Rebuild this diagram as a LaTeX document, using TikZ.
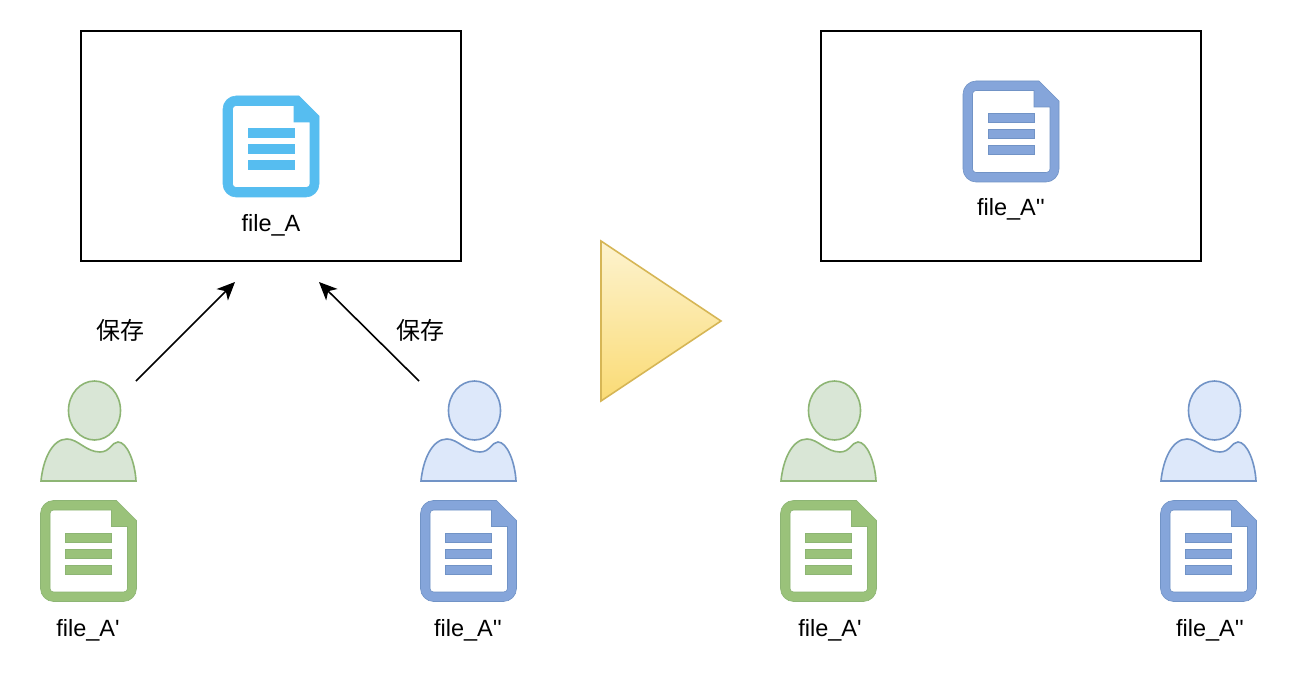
\documentclass[tikz,border=0pt]{standalone}
\usepackage{fontspec}
\newfontfamily\lblfont{Liberation Sans}
\newfontfamily\cjkfont{Noto Sans CJK SC}
\usetikzlibrary{arrows.meta}
\definecolor{cyanfill}{HTML}{56BDF0}
\definecolor{greenfill}{HTML}{9AC27A}
\definecolor{greenline}{HTML}{8DB574}
\definecolor{bluefill}{HTML}{85A5DA}
\definecolor{blueline}{HTML}{7193C6}
\definecolor{greenlight}{HTML}{D9E6D6}
\definecolor{bluelight}{HTML}{DDE8FA}
\definecolor{goldtop}{HTML}{FDF3CF}
\definecolor{goldbot}{HTML}{FADB75}
\definecolor{goldline}{HTML}{D6B656}
\tikzset{
  frame/.style={draw=black,line width=1.5pt,fill=white},
  lbl/.style={font=\lblfont\fontsize{23.5}{26}\selectfont,text=black,inner sep=0pt,anchor=center},
  cjklbl/.style={font=\cjkfont\fontsize{24}{26}\selectfont,text=black,inner sep=0pt,anchor=center},
  savearrow/.style={draw=black,line width=1.6pt,-{Stealth[length=18pt,width=16pt,inset=5pt]}}
}
\newcommand{\docicon}[4]{%
 \begin{scope}[shift={(#1,#2)}]
  \path[fill=#3,draw=#4,line width=0.6pt,even odd rule]
   (13,0) .. controls (6,0) and (0,6) .. (0,13) -- (0,88)
   .. controls (0,95) and (6,101) .. (13,101) -- (83,101)
   .. controls (90,101) and (96,95) .. (96,88) -- (96,20) -- (76,0) -- cycle
   (13,9.5) .. controls (11,9.5) and (9.5,11) .. (9.5,13)
   -- (9.5,88) .. controls (9.5,90) and (11,91.5) .. (13,91.5)
   -- (83,91.5) .. controls (85.5,91.5) and (87,90) .. (87,88)
   -- (87,26) -- (71,26) -- (71,9.5) -- cycle;
  \path[fill=#3,draw=#4,line width=0.6pt] (25,32.5) rectangle (71,41.5);
  \path[fill=#3,draw=#4,line width=0.6pt] (25,48.5) rectangle (71,57.5);
  \path[fill=#3,draw=#4,line width=0.6pt] (25,64.5) rectangle (71,73.5);
 \end{scope}}
\newcommand{\usericon}[3]{%
 \begin{scope}[shift={(#1,380)}]
  \path[fill=#2,draw=#3,line width=1.6pt] (54.5,30.5) ellipse [x radius=26,y radius=29.5];
  \path[fill=#2,draw=#3,line width=1.6pt]
   (1,101) .. controls (3,80) and (12,59) .. (27,59)
   .. controls (38,59) and (46,72) .. (60,72)
   .. controls (70,72) and (72,62) .. (78,62)
   .. controls (87,62) and (95,82) .. (96,101) -- cycle;
 \end{scope}}
\begin{document}
\begin{tikzpicture}[x=1pt,y=-1pt]
\useasboundingbox (0,0) rectangle (1310,674);
\path[fill=white] (0,0) rectangle (1310,674);
\path[frame] (81,31) rectangle (461,261);
\path[frame] (821,31) rectangle (1201,261);
\docicon{223}{96}{cyanfill}{cyanfill}
\docicon{963}{81}{bluefill}{blueline}
\docicon{40.5}{500.5}{greenfill}{greenline}
\docicon{420.5}{500.5}{bluefill}{blueline}
\docicon{780.5}{500.5}{greenfill}{greenline}
\docicon{1160.5}{500.5}{bluefill}{blueline}
\usericon{40}{greenlight}{greenline}
\usericon{420}{bluelight}{blueline}
\usericon{780}{greenlight}{greenline}
\usericon{1160}{bluelight}{blueline}
\path[draw=goldline,line width=1.6pt,top color=goldtop,bottom color=goldbot]
  (601,241) -- (721,321) -- (601,401) -- cycle;
\node[lbl] (labA) at (271,225) {file\_A};
\node[lbl] (labTop) at (1011,209) {file\_A''};
\node[lbl] (lab1) at (88,630) {file\_A'};
\node[lbl] (lab2) at (468,630) {file\_A''};
\node[lbl] (lab3) at (830,630) {file\_A'};
\node[lbl] (lab4) at (1210,630) {file\_A''};
\node[cjklbl] (save1) at (120,330) {保存};
\node[cjklbl] (save2) at (420,330) {保存};
\coordinate (a1s) at (136,381);
\coordinate (a1e) at (235,282);
\coordinate (a2s) at (419,381);
\coordinate (a2e) at (319,282);
\draw[savearrow] (a1s) -- (a1e);
\draw[savearrow] (a2s) -- (a2e);
\end{tikzpicture}
\end{document}
